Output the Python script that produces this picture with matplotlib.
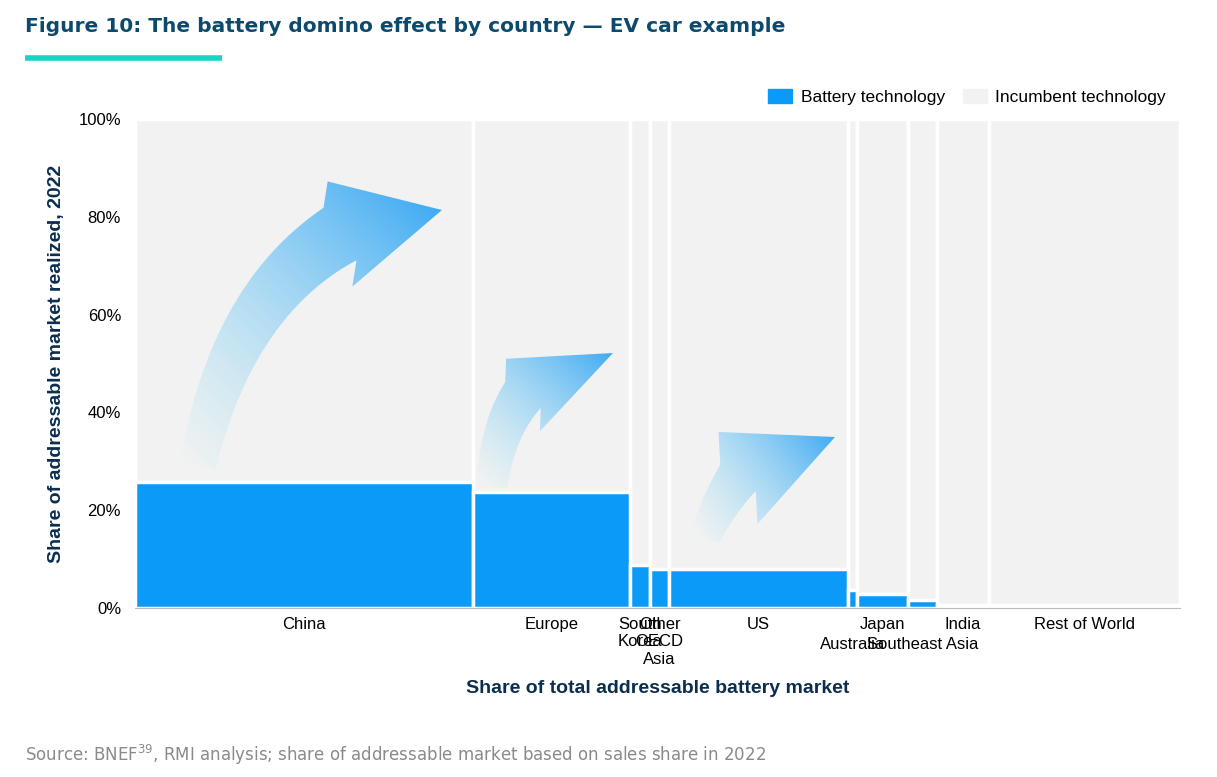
import numpy as np
import matplotlib.pyplot as plt
from matplotlib.path import Path
from matplotlib.patches import PathPatch, Patch

plt.rcParams['font.family'] = ['Liberation Sans', 'DejaVu Sans']

regions = ["China", "Europe", "South\nKorea", "Other\nOECD\nAsia", "US", "Australia",
           "Japan", "Southeast Asia", "India", "Rest of World"]
market_share = [31.8, 14.8, 1.9, 1.8, 16.8, 0.9, 4.8, 2.7, 4.9, 18.0]
battery_pct = [25.8, 23.7, 8.8, 8.0, 8.0, 3.7, 2.9, 1.7, 0.6, 0.6]
label_row = [0, 0, 0, 0, 0, 1, 0, 1, 0, 0]

share = np.array(market_share) / sum(market_share) * 100
left = np.concatenate([[0], np.cumsum(share)[:-1]])

fig = plt.figure(figsize=(12.17, 7.77), dpi=100)
ax = fig.add_axes([135 / 1217, 1 - 608 / 777, 1045 / 1217, 489 / 777])
blue = "#0b9af7"
grey = "#f2f2f2"
ax.bar(left, 100, width=share, align="edge", color=grey, edgecolor="white", linewidth=2.5)
ax.bar(left, battery_pct, width=share, align="edge", color=blue, edgecolor="white", linewidth=2.5)
ax.set_xlim(0, 100)
ax.set_ylim(0, 100)
ax.set_yticks(range(0, 101, 20))
ax.set_yticklabels([f"{v}%" for v in range(0, 101, 20)], fontsize=12)
ax.set_xticks([])
for s in ["top", "right", "left"]:
    ax.spines[s].set_visible(False)
ax.spines["bottom"].set_color("#bbbbbb")
ax.tick_params(axis="y", length=0, pad=10)
for l, w, name, row in zip(left, share, regions, label_row):
    ax.text(l + w / 2, -1.8 - row * 4.2, name, ha="center", va="top", fontsize=12,
            linespacing=1.2)
ax.set_xlabel("Share of total addressable battery market", fontsize=14, fontweight="bold",
              color="#0b2e4f", labelpad=52)
ax.set_ylabel("Share of addressable market realized, 2022", fontsize=14, fontweight="bold",
              color="#0b2e4f", labelpad=10)
ax.legend(handles=[Patch(color=blue, label="Battery technology"),
                   Patch(color=grey, label="Incumbent technology")],
          loc="lower right", bbox_to_anchor=(1.0, 1.0), ncol=2, frameon=False,
          fontsize=12.5, handlelength=1.4, handleheight=0.9, columnspacing=1.0,
          handletextpad=0.5, borderaxespad=0.4)

# overlay in pixel coordinates for decorations
ov = fig.add_axes([0, 0, 1, 1], zorder=5)
ov.set_xlim(0, 1217)
ov.set_ylim(777, 0)
ov.axis("off")
ov.patch.set_alpha(0)


def arrow(p0, c, b, t, w0, w1, hw):
    p0, c, b, t = map(np.array, (p0, c, b, t))
    ts = np.linspace(0, 1, 40)
    pts = ((1 - ts) ** 2)[:, None] * p0 + (2 * (1 - ts) * ts)[:, None] * c + (ts ** 2)[:, None] * b
    tan = np.gradient(pts, axis=0)
    tan /= np.linalg.norm(tan, axis=1)[:, None]
    nrm = np.stack([-tan[:, 1], tan[:, 0]], axis=1)
    w = (w0 + (w1 - w0) * ts)[:, None] / 2
    side1 = pts + nrm * w
    side2 = pts - nrm * w
    d = (t - b) / np.linalg.norm(t - b)
    n = np.array([-d[1], d[0]])
    verts = list(side1) + [b + n * hw, t, b - n * hw] + list(side2[::-1]) + [side1[0]]
    patch = PathPatch(Path(verts), facecolor="none", edgecolor="none")
    ov.add_patch(patch)
    X, Y = np.meshgrid(np.arange(0, 1217), np.arange(0, 777))
    v = t - p0
    f = ((X - p0[0]) * v[0] + (Y - p0[1]) * v[1]) / (v @ v)
    f = np.clip(f, 0, 1)
    rgba = np.zeros((777, 1217, 4))
    rgba[..., 0] = 0.25 + 0.5 * (1 - f)
    rgba[..., 1] = 0.67 + 0.25 * (1 - f)
    rgba[..., 2] = 0.96
    rgba[..., 3] = 0.05 + 0.95 * f ** 0.7
    im = ov.imshow(rgba, extent=(0, 1217, 777, 0), origin="upper", interpolation="bilinear")
    im.set_clip_path(patch)


arrow((198, 465), (232, 300), (340, 234), (442, 210), 36, 62, 54)
arrow((492, 487), (497, 430), (523, 395), (613, 353), 30, 44, 40)
arrow((705, 538), (718, 505), (738, 478), (835, 437), 30, 44, 50)
ov.set_xlim(0, 1217)
ov.set_ylim(777, 0)

fig.text(25 / 1217, 1 - 26 / 777, "Figure 10: The battery domino effect by country — EV car example",
         fontsize=14.5, fontweight="bold", color="#0b4a6e", va="center", family="DejaVu Sans")
ov.plot([25, 222], [58, 58], color="#19d3c5", lw=4, solid_capstyle="butt")
fig.text(25 / 1217, 1 - 755 / 777,
         "Source: BNEF$^{39}$, RMI analysis; share of addressable market based on sales share in 2022",
         fontsize=12, color="#8a8a8a", va="center", family="DejaVu Sans")
fig.savefig("out.png", dpi=100)
